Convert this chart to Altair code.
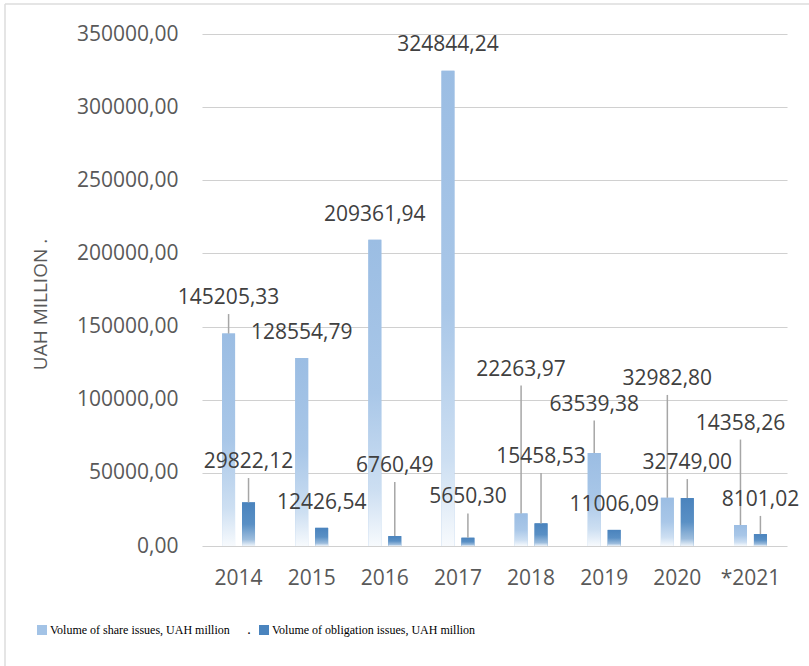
import altair as alt
import pandas as pd

# Share and bond issue volumes by year, UAH million
years = ["2014", "2015", "2016", "2017", "2018", "2019", "2020", "*2021"]
share_issues = [145205.33, 128554.79, 209361.94, 324844.24, 22263.97, 63539.38, 32982.80, 14358.26]
bond_issues = [29822.12, 12426.54, 6760.49, 5650.30, 15458.53, 11006.09, 32749.00, 8101.02]

# Height (in data units) at which each value label sits
share_label_at = [169500, 145600, 226300, 342500, 120650, 96700, 114200, 83700]
bond_label_at = [57400, 29400, 54700, 33200, 60800, 27700, 56700, 31500]

SHARE = "Volume of share issues, UAH million"
BOND = "Volume of obligation issues, UAH million"
series_order = [SHARE, BOND]

rows = []
for i, yr in enumerate(years):
    rows.append({"year": yr, "series": SHARE, "value": share_issues[i], "label_at": share_label_at[i]})
    rows.append({"year": yr, "series": BOND, "value": bond_issues[i], "label_at": bond_label_at[i]})
df = pd.DataFrame(rows)

AXIS_FONT = "Open Sans"
fmt_expr = "replace(format(datum.value, '.2f'), '.', ',')"


def vertical_gradient(stops):
    return {
        "gradient": "linear", "x1": 0, "y1": 0, "x2": 0, "y2": 1,
        "stops": [{"offset": o, "color": c} for o, c in stops],
    }


share_grad = vertical_gradient([(0.0, "#9bbde3"), (0.5, "#a9c7e8"), (0.82, "#cddff2"), (1.0, "#f7fafd")])
bond_grad = vertical_gradient([(0.0, "#4a83bd"), (0.5, "#5a90c5"), (0.85, "#9dbddd"), (1.0, "#eef4fa")])

x_enc = alt.X(
    "year:N",
    sort=years,
    scale=alt.Scale(paddingInner=0.55, paddingOuter=0.275),
    axis=alt.Axis(
        title=None, labelAngle=0, domain=False, ticks=False, tickSize=0,
        labelFont=AXIS_FONT, labelFontSize=21, labelColor="#595959", labelPadding=21,
    ),
)
xoff_enc = alt.XOffset("series:N", sort=series_order, scale=alt.Scale(paddingInner=0.35, paddingOuter=0))
y_enc = alt.Y(
    "value:Q",
    scale=alt.Scale(domain=[0, 350000], nice=False),
    axis=alt.Axis(
        values=list(range(0, 350001, 50000)),
        labelExpr=fmt_expr,
        domain=False, ticks=False,
        grid=True, gridColor="#d0d0d0", gridWidth=1.2,
        labelFont=AXIS_FONT, labelFontSize=21, labelColor="#595959", labelPadding=24,
        title="UAH MILLION .",
        titleFont=AXIS_FONT, titleFontSize=19, titleFontWeight="normal", titleColor="#595959",
        titleAngle=270, titleAlign="center", titleBaseline="middle",
        titleX=-162, titleY=270,
    ),
)

base = alt.Chart(df)

# solid bars carry the legend
solid = base.mark_bar().encode(
    x=x_enc,
    xOffset=xoff_enc,
    y=y_enc,
    color=alt.Color(
        "series:N",
        scale=alt.Scale(domain=series_order, range=["#a3c3e6", "#4a84be"]),
        legend=alt.Legend(
            title=None, orient="none", legendX=-166, legendY=590,
            direction="horizontal", symbolType="square", symbolSize=100,
            symbolStrokeWidth=0, labelFont="Liberation Serif", labelFontSize=12,
            labelColor="#000000", labelOffset=2, columnPadding=28, padding=0,
            labelLimit=400,
        ),
    ),
)

# gradient-filled bars drawn on top
gradient = base.mark_bar().encode(
    x=x_enc,
    xOffset=xoff_enc,
    y="value:Q",
    fill=alt.condition(alt.datum.series == SHARE, alt.value(share_grad), alt.value(bond_grad)),
)

# leader lines from bar tops to labels that sit well above them
leaders = base.mark_rule(color="#a6a6a6", strokeWidth=1.5, y2Offset=16).encode(
    x=x_enc,
    xOffset=xoff_enc,
    y="value:Q",
    y2="label_at:Q",
).transform_filter("datum.label_at - datum.value > 20000")

labels = base.mark_text(font=AXIS_FONT, fontSize=21, color="#404040", baseline="middle").encode(
    x=x_enc,
    xOffset=xoff_enc,
    y="label_at:Q",
    text="label:N",
).transform_calculate(label=fmt_expr)

one = pd.DataFrame({"k": [0]})
dot = alt.Chart(one).mark_text(
    text=".", font="Liberation Serif", fontSize=14, color="#000000", baseline="alphabetic"
).encode(x=alt.value(47), y=alt.value(600))

frame_left = alt.Chart(one).mark_rule(color="#dcdcdc", strokeWidth=1.5).encode(
    x=alt.value(-197), y=alt.value(-30), y2=alt.value(640)
)
frame_top = alt.Chart(one).mark_rule(color="#dcdcdc", strokeWidth=1.5).encode(
    x=alt.value(-197), x2=alt.value(607), y=alt.value(-30)
)

chart = alt.layer(solid, gradient, leaders, labels, dot, frame_left, frame_top).properties(
    width=585,
    height=512,
    autosize=alt.AutoSizeParams(type="none"),
    padding={"left": 202, "top": 34, "right": 22, "bottom": 120},
    background="white",
).configure_view(stroke=None)

chart.save("out.html", embed_options={"renderer": "svg", "actions": False})
